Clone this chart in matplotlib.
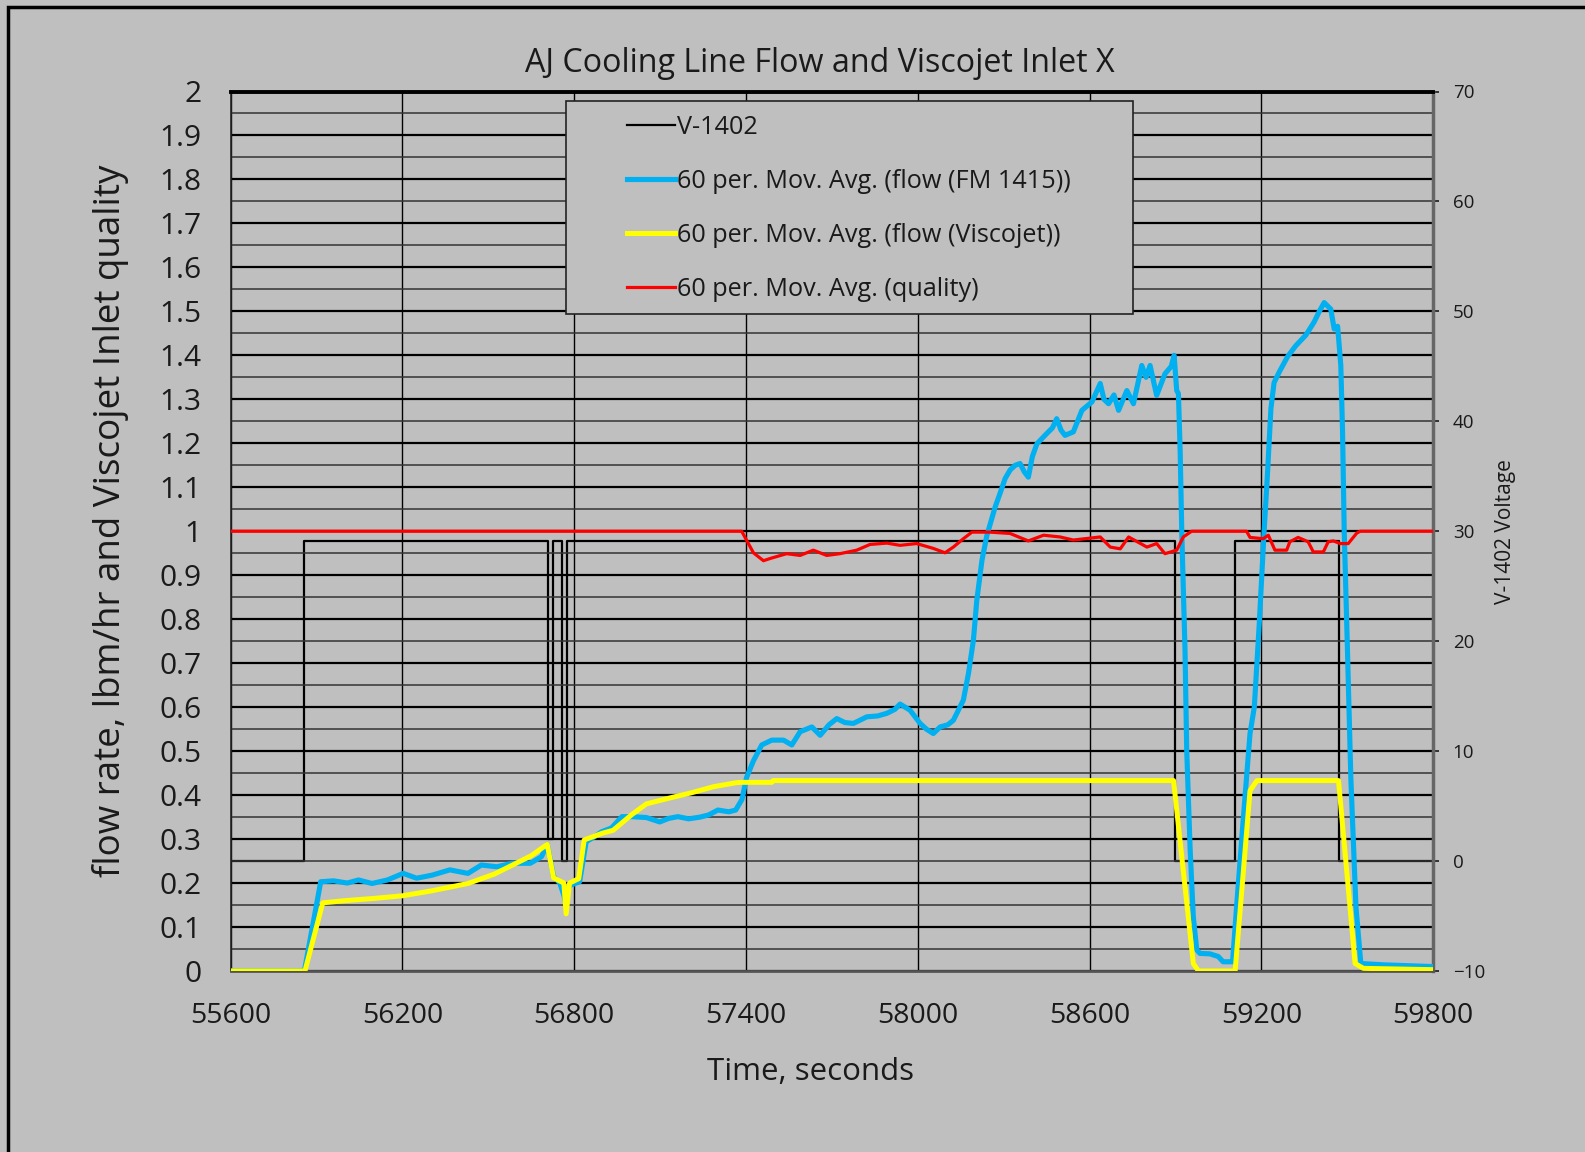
import matplotlib
matplotlib.use("Agg")
import matplotlib.pyplot as plt
import matplotlib.patches as mpatches
from matplotlib.ticker import MultipleLocator, FixedLocator
import numpy as np

plt.rcParams['font.family'] = ['Open Sans', 'DejaVu Sans']

# ---------------- data ----------------
title = "AJ Cooling Line Flow and Viscojet Inlet X"
xlabel = "Time, seconds"
ylabel = "flow rate, lbm/hr and Viscojet Inlet quality"
y2label = "V-1402 Voltage"
legend_labels = ["V-1402",
                 "60 per. Mov. Avg. (flow (FM 1415))",
                 "60 per. Mov. Avg. (flow (Viscojet))",
                 "60 per. Mov. Avg. (quality)"]

x_ticks = [55600, 56200, 56800, 57400, 58000, 58600, 59200, 59800]

# V-1402 voltage (step, value holds until next time)
v1402_t = [55600, 55858, 56710, 56727, 56757, 56774, 58899, 59107, 59471, 59800]
v1402_v = [0, 29.1, 2.0, 29.1, 0, 29.1, 0, 29.1, 0, 0]

# 60 per. moving average, flow FM 1415
fm_t = [55600, 55858, 55915, 55960, 56008, 56047, 56094, 56148, 56203, 56250,
        56304, 56366, 56429, 56476, 56530, 56585, 56647, 56686, 56706, 56728,
        56750, 56765, 56772, 56780, 56787, 56819, 56842, 56870, 56897, 56930,
        56967, 57000, 57052, 57099, 57130, 57162, 57200, 57240, 57270, 57302,
        57340, 57364, 57386, 57402, 57426, 57455, 57490, 57531, 57560, 57589,
        57630, 57659, 57690, 57717, 57745, 57775, 57822, 57860, 57892, 57920,
        57938, 57973, 58008, 58030, 58054, 58078, 58105, 58124, 58159, 58177,
        58194, 58206, 58224, 58241, 58270, 58287, 58305, 58322, 58340, 58357,
        58372, 58386, 58400, 58416, 58450, 58470, 58485, 58500, 58514, 58543,
        58573, 58608, 58637, 58650, 58666, 58685, 58701, 58730, 58753, 58782,
        58797, 58811, 58834, 58863, 58885, 58895, 58904, 58910, 58916, 58922,
        58933, 58939, 58951, 58962, 58974, 58985, 59020, 59049, 59066, 59099,
        59113, 59136, 59160, 59175, 59192, 59209, 59221, 59233, 59244, 59262,
        59291, 59320, 59355, 59384, 59402, 59419, 59442, 59454, 59466, 59477,
        59483, 59489, 59500, 59512, 59530, 59547, 59626, 59800]
fm_v = [0.0, 0.0, 0.203, 0.205, 0.200, 0.207, 0.199, 0.207, 0.222, 0.211,
        0.218, 0.230, 0.222, 0.241, 0.237, 0.245, 0.245, 0.260, 0.288, 0.215,
        0.200, 0.170, 0.150, 0.190, 0.195, 0.203, 0.294, 0.305, 0.317, 0.325,
        0.351, 0.351, 0.349, 0.339, 0.347, 0.351, 0.346, 0.350, 0.355, 0.366,
        0.362, 0.366, 0.390, 0.440, 0.478, 0.514, 0.525, 0.525, 0.514, 0.544,
        0.555, 0.536, 0.560, 0.574, 0.565, 0.563, 0.578, 0.580, 0.586, 0.595,
        0.607, 0.593, 0.563, 0.550, 0.540, 0.555, 0.560, 0.570, 0.616, 0.677,
        0.752, 0.843, 0.934, 0.990, 1.055, 1.086, 1.120, 1.139, 1.150, 1.154,
        1.135, 1.123, 1.170, 1.199, 1.222, 1.235, 1.256, 1.230, 1.218, 1.226,
        1.275, 1.294, 1.336, 1.300, 1.290, 1.310, 1.275, 1.320, 1.290, 1.377,
        1.350, 1.377, 1.309, 1.358, 1.375, 1.400, 1.320, 1.313, 1.184, 0.990,
        0.730, 0.502, 0.275, 0.123, 0.048, 0.040, 0.039, 0.033, 0.021, 0.021,
        0.145, 0.342, 0.540, 0.600, 0.786, 0.998, 1.131, 1.279, 1.338, 1.362,
        1.397, 1.422, 1.446, 1.476, 1.500, 1.520, 1.505, 1.460, 1.466, 1.377,
        1.230, 0.998, 0.736, 0.440, 0.145, 0.017, 0.014, 0.010]

# 60 per. moving average, flow Viscojet
vj_t = [55600, 55860, 55922, 56000, 56100, 56200, 56300, 56429, 56520, 56585,
        56650, 56706, 56728, 56764, 56772, 56784, 56816, 56835, 56897, 56936,
        57000, 57052, 57131, 57208, 57286, 57364, 57380, 57490, 57495, 58893,
        58962, 58980, 59108, 59160, 59184, 59469, 59527, 59556, 59800]
vj_v = [0.0, 0.0, 0.155, 0.160, 0.165, 0.171, 0.182, 0.199, 0.220, 0.241,
        0.262, 0.288, 0.212, 0.200, 0.130, 0.200, 0.210, 0.298, 0.313, 0.320,
        0.355, 0.380, 0.393, 0.405, 0.419, 0.428, 0.429, 0.429, 0.433, 0.433,
        0.017, 0.0, 0.0, 0.410, 0.433, 0.433, 0.017, 0.006, 0.003]

# 60 per. moving average, quality
q_t = [55600, 57385, 57426, 57461, 57484, 57542, 57589, 57635, 57682, 57728,
       57787, 57833, 57892, 57938, 57996, 58054, 58095, 58124, 58159, 58189,
       58252, 58322, 58386, 58439, 58497, 58543, 58637, 58672, 58707, 58736,
       58800, 58834, 58863, 58904, 58927, 58956, 59148, 59160, 59206, 59224,
       59247, 59288, 59299, 59328, 59363, 59381, 59416, 59433, 59451, 59475,
       59503, 59533, 59545, 59800]
q_v = [1.0, 1.0, 0.951, 0.933, 0.938, 0.949, 0.945, 0.957, 0.945, 0.949,
       0.957, 0.970, 0.973, 0.968, 0.972, 0.961, 0.951, 0.964, 0.983, 0.998,
       0.998, 0.995, 0.978, 0.991, 0.987, 0.980, 0.987, 0.964, 0.960, 0.987,
       0.964, 0.972, 0.949, 0.957, 0.987, 1.0, 1.0, 0.986, 0.983, 0.991,
       0.957, 0.957, 0.976, 0.986, 0.976, 0.953, 0.953, 0.976, 0.978, 0.972,
       0.972, 0.996, 1.0, 1.0]

# ---------------- figure ----------------
W, H = 1585, 1152
BG = '#BFBFBF'
TXT = '#1a1a1a'
fig = plt.figure(figsize=(W / 100, H / 100), dpi=100, facecolor=BG)

L, R, T, B = 230.5, 1433.3, 91.5, 971.0
ax = fig.add_axes([L / W, 1 - B / H, (R - L) / W, (B - T) / H])
ax2 = ax.twinx()
ax.set_zorder(ax2.get_zorder() + 1)
ax.patch.set_visible(False)
ax2.patch.set_facecolor(BG)

# secondary axis: V-1402
l_v, = ax2.plot(v1402_t, v1402_v, drawstyle='steps-post', color='black', lw=1.6, zorder=2)
ax2.set_ylim(-10, 70)
ax2.yaxis.set_major_locator(MultipleLocator(10))

# primary axis
l_fm, = ax.plot(fm_t, fm_v, color='#00B0F0', lw=3.7, zorder=4, solid_joinstyle='round')
l_vj, = ax.plot(vj_t, vj_v, color='#FFFF00', lw=3.6, zorder=5, solid_joinstyle='round')
l_q, = ax.plot(q_t, q_v, color='#FF0000', lw=2.3, zorder=6)

ax.set_xlim(55600, 59800)
ax.set_ylim(0, 2)
ax.xaxis.set_major_locator(FixedLocator(x_ticks))
ax.yaxis.set_major_locator(MultipleLocator(0.1))
ax.yaxis.set_minor_locator(MultipleLocator(0.05))
ax.yaxis.set_major_formatter(plt.FuncFormatter(
    lambda v, p: ('%.1f' % v).rstrip('0').rstrip('.') if abs(v) > 1e-9 else '0'))

ax.grid(True, which='major', axis='y', color='black', lw=1.6, zorder=1)
ax.grid(True, which='minor', axis='y', color='#333333', lw=1.1, zorder=1)
ax.grid(True, which='major', axis='x', color='black', lw=1.0, zorder=1)
ax.set_axisbelow(True)

ax.tick_params(axis='y', which='both', length=0, labelsize=21.5, pad=21, colors=TXT)
ax.tick_params(axis='x', length=0, labelsize=20.5, pad=22, colors=TXT)
ax2.tick_params(axis='y', length=4, width=1.2, labelsize=13.5, pad=10, colors=TXT)

for sp in ['left', 'right', 'top', 'bottom']:
    ax2.spines[sp].set_visible(False)
ax.spines['top'].set_linewidth(2.8)
ax.spines['top'].set_color('black')
ax.spines['left'].set_linewidth(1.2)
ax.spines['left'].set_color('#222222')
ax.spines['bottom'].set_linewidth(2.0)
ax.spines['bottom'].set_color('#555555')
ax.spines['right'].set_linewidth(2.5)
ax.spines['right'].set_color('#666666')

# labels
fig.text(820 / W, 1 - 63 / H, title, ha='center', va='center', fontsize=23.2, color=TXT)
fig.text(111 / W, 1 - 521 / H, ylabel, ha='center', va='center',
         rotation=90, fontsize=26.5, color=TXT)
fig.text(810 / W, 1 - 1072 / H, xlabel, ha='center', va='center', fontsize=22.5, color=TXT)
fig.text(1505 / W, 1 - 532 / H, y2label, ha='center', va='center', rotation=90,
         fontsize=15, color=TXT)

# legend box
lx0, lx1, ly0, ly1 = 566, 1133, 101, 314
box = mpatches.Rectangle(((lx0 - L) / (R - L), (B - ly1) / (B - T)),
                         (lx1 - lx0) / (R - L), (ly1 - ly0) / (B - T),
                         transform=ax.transAxes, facecolor=BG, edgecolor='#222222',
                         lw=1.2, zorder=10)
ax.add_patch(box)
leg = ax.legend([l_v, l_fm, l_vj, l_q], legend_labels, loc='upper left',
                bbox_to_anchor=(627 / W, 1 - 115 / H), bbox_transform=fig.transFigure,
                frameon=False, fontsize=18.2, handlelength=1.9, handletextpad=0.08,
                labelspacing=1.15, borderpad=0, borderaxespad=0)
leg.set_zorder(11)
for t in leg.get_texts():
    t.set_color(TXT)

# outer border
border = mpatches.Rectangle((8 / W, -0.1), 1.2, 1 - 7 / H + 0.1, transform=fig.transFigure,
                            fill=False, edgecolor='black', lw=2.5, figure=fig, clip_on=False)
fig.patches.append(border)

fig.savefig('out.png', dpi=100, facecolor=BG)
